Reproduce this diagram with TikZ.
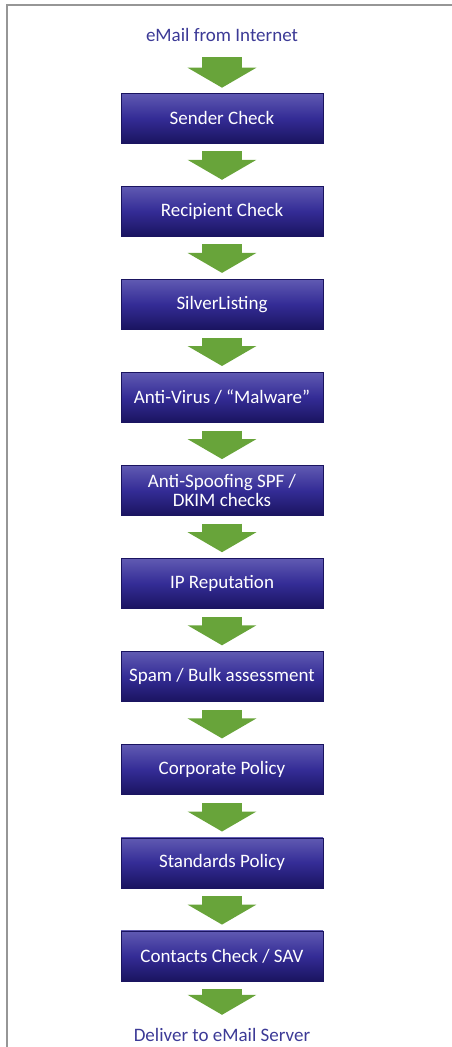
\documentclass[tikz,border=0pt]{standalone}
\usepackage{fontspec}
\setmainfont{Carlito}
\usetikzlibrary{positioning,arrows.meta}
\definecolor{boxtop}{RGB}{96,90,178}
\definecolor{boxmid}{RGB}{52,44,150}
\definecolor{boxbot}{RGB}{26,20,96}
\definecolor{flowgreen}{RGB}{104,164,58}
\definecolor{titleblue}{RGB}{60,58,150}
\definecolor{framegray}{RGB}{150,150,150}

\begin{document}
\begin{tikzpicture}[x=1pt, y=1pt,
		stage/.style={rectangle, minimum width=202pt, minimum height=50pt, inner sep=2pt, align=center,
			top color=boxtop, bottom color=boxbot, middle color=boxmid, draw=boxbot, line width=.6pt,
			text=white, font=\fontsize{19}{19}\selectfont},
		endpoint/.style={text=titleblue, font=\fontsize{19}{20}\selectfont},
		flow/.style={draw=flowgreen, line width=40pt, shorten <=8pt, shorten >=6pt,
			-{Triangle[length=20pt, width=68pt, fill=flowgreen]}},
		node distance=42.5pt]
		\pgfmathsetmacro{\pagew}{452}
		\pgfmathsetmacro{\pageh}{1047}
		\useasboundingbox (0,0) rectangle (\pagew,-\pageh);
		\draw [framegray, line width=2pt] (7,-\pageh) -- (7,-4.5) -- (\pagew,-4.5);

		\node [endpoint] (inet) at (222,-35) {eMail from Internet};
		\node [stage] (sender) at (222,-118) {Sender Check};
		\node [stage, below=of sender] (recipient) {Recipient Check};
		\node [stage, below=of recipient] (silver) {SilverListing};
		\node [stage, below=of silver] (virus) {Anti-Virus / ``Malware''};
		\node [stage, below=of virus] (spoof) {Anti-Spoofing SPF /\\DKIM checks};
		\node [stage, below=of spoof] (iprep) {IP Reputation};
		\node [stage, below=of iprep] (spam) {Spam / Bulk assessment};
		\node [stage, below=of spam] (corporate) {Corporate Policy};
		\node [stage, below=of corporate] (standards) {Standards Policy};
		\node [stage, below=of standards] (contacts) {Contacts Check / SAV};
		\node [endpoint] (server) at (222,-1035) {Deliver to eMail Server};

		\draw [flow, shorten <=12pt, shorten >=5pt] (inet) -- (sender);
		\foreach \a/\b in {sender/recipient, recipient/silver, silver/virus, virus/spoof, spoof/iprep,
			iprep/spam, spam/corporate, corporate/standards, standards/contacts}
			\draw [flow] (\a) -- (\b);
		\draw [flow, shorten >=10pt] (contacts) -- (server);
	\end{tikzpicture}
\end{document}
